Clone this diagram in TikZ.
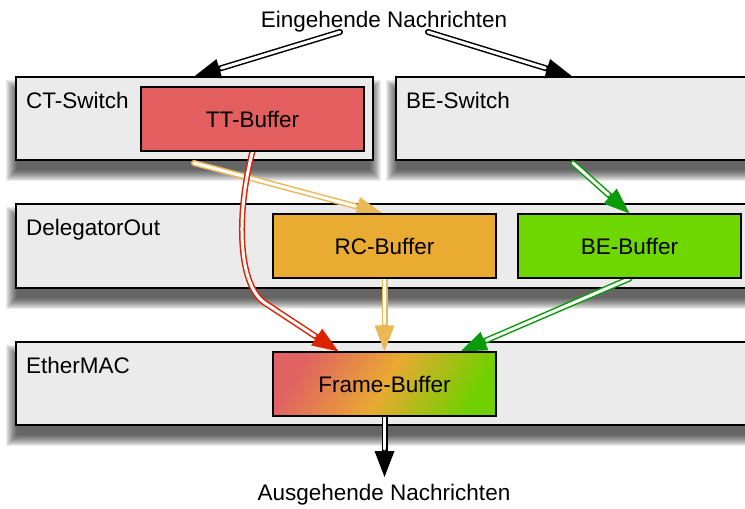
\documentclass[tikz,border=0pt]{standalone}
\usepackage{fontspec}
\setmainfont{Liberation Sans}
\usetikzlibrary{arrows.meta,calc}
\definecolor{boxgray}{HTML}{EBEBEB}
\definecolor{ttred}{HTML}{E35F5F}
\definecolor{rcorange}{HTML}{EAAB33}
\definecolor{begreen}{HTML}{6ED600}
\definecolor{ttarrow}{HTML}{DD2200}
\definecolor{rcarrow}{HTML}{EBB858}
\definecolor{bearrow}{HTML}{0A9A0A}
\definecolor{fbred}{HTML}{E06262}
\definecolor{fbmid}{HTML}{E9A933}
\definecolor{fbgreen}{HTML}{72D000}
\pgfdeclarelayer{shadowlayer}
\pgfdeclarelayer{bg}
\pgfdeclarelayer{mid}
\pgfsetlayers{shadowlayer,bg,mid,main}
\newcommand{\dblarrow}[2]{%
  \draw[#1, line width=6pt, line cap=round, -{Triangle[length=26pt,width=20pt,line width=0pt]}] #2;
  \draw[white, line width=3pt, line cap=round, shorten >=28pt] #2;}
\newcommand{\softshadow}[1]{%
  \begin{pgfonlayer}{shadowlayer}
  \foreach \k in {0,...,11}{%
    \pgfmathsetmacro{\infl}{8-\k}
    \fill[black, opacity=0.075]
      ($(#1.north west)+(-1-\infl,12-\infl)$) rectangle ($(#1.south east)+(-1+\infl,12+\infl)$);
  }
  \end{pgfonlayer}}
\begin{document}
\begin{tikzpicture}[x=1pt,y=-1pt,font=\fontsize{22.5}{27}\selectfont]
\tikzset{
  outer/.style={draw=black, line width=1.5pt, fill=boxgray, rectangle, inner sep=0pt},
  buf/.style={draw=black, line width=1.2pt, rectangle, inner sep=0pt,
    minimum width=223pt, minimum height=64pt},
  lbl/.style={anchor=base west, inner sep=0pt},
  txt/.style={anchor=base, inner sep=0pt}
}
\useasboundingbox (0,0) rectangle (745,509);
% texts
\node[txt] (in) at (384,27) {Eingehende Nachrichten};
\node[txt] (out) at (384,500) {Ausgehende Nachrichten};
% outer boxes
\begin{pgfonlayer}{bg}
\node[outer, minimum width=357pt, minimum height=83pt] (ct) at (194.5,118.5) {};
\node[outer, minimum width=364pt, minimum height=83pt] (bes) at (578,118.5) {};
\node[outer, minimum width=744pt, minimum height=84pt] (deleg) at (388,246) {};
\node[outer, minimum width=744pt, minimum height=83pt] (eth) at (388,383.5) {};
\end{pgfonlayer}
\softshadow{ct}
\softshadow{bes}
\softshadow{deleg}
\softshadow{eth}
\node[lbl] (ctl) at (26,108) {CT-Switch};
\node[lbl] (bel) at (406,108) {BE-Switch};
\node[lbl] (dl) at (26,235) {DelegatorOut};
\node[lbl] (el) at (26,373) {EtherMAC};
% buffers
\node[buf, fill=ttred] (tt) at (252.5,119) {TT-Buffer};
\node[buf, fill=rcorange] (rc) at (384.5,246) {RC-Buffer};
\node[buf, fill=begreen] (beb) at (629.5,246) {BE-Buffer};
\node[buf, left color=fbred, right color=fbgreen, middle color=fbmid, shading angle=60] (fb) at (384.5,384) {Frame-Buffer};
% connectors
\coordinate (i1) at (340,32);
\coordinate (i2) at (428,32);
\coordinate (o1) at (194,163);
\coordinate (g1) at (573,163);
\coordinate (oc) at (384.5,477);
\begin{pgfonlayer}{mid}
\dblarrow{black}{(i1) -- (ct.north)}
\dblarrow{black}{(i2) -- ($(bes.north)+(-6,0)$)}
\dblarrow{rcarrow}{(o1) -- ($(rc.north)+(-2,0)$)}
\dblarrow{ttarrow}{(tt.south) .. controls (236,215) and (238,285) .. (265,303) -- ($(fb.north west)+(66,0)$)}
\dblarrow{rcarrow}{(rc.south) -- (fb.north)}
\dblarrow{bearrow}{(g1) -- (beb.north)}
\dblarrow{bearrow}{(beb.south) -- ($(fb.north east)+(-36,0)$)}
\dblarrow{black}{(fb.south) -- (oc)}
\end{pgfonlayer}
\end{tikzpicture}
\end{document}
